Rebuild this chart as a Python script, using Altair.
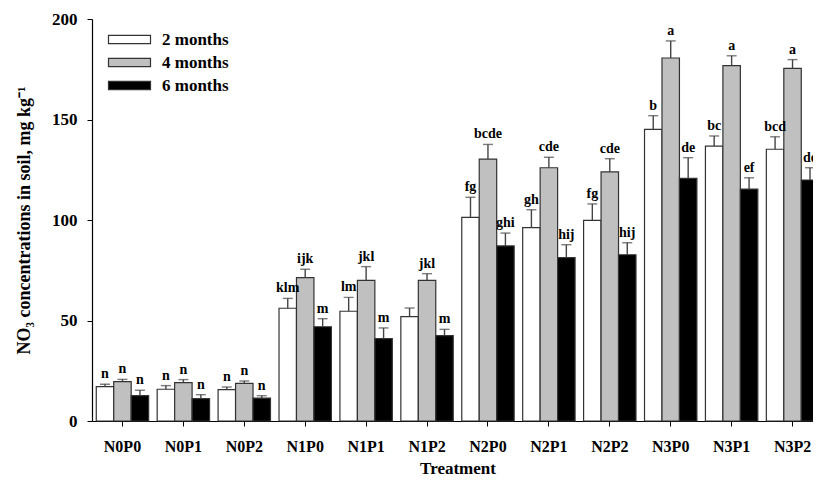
import altair as alt
import pandas as pd

treatments = ["N0P0", "N0P1", "N0P2", "N1P0", "N1P1", "N1P2",
              "N2P0", "N2P1", "N2P2", "N3P0", "N3P1", "N3P2"]
months = ["2 months", "4 months", "6 months"]

mean_2 = [17.1, 15.8, 15.6, 56.1, 54.6, 51.9, 101.3, 96.2, 99.8, 145.1, 136.8, 135.2]
top_2 = [18.3, 17.6, 16.9, 61.0, 61.5, 56.2, 111.3, 105.1, 108.0, 151.9, 141.8, 141.4]
lab_2 = ["n", "n", "n", "klm", "lm", "", "fg", "gh", "fg", "b", "bc", "bcd"]

mean_4 = [19.6, 19.1, 18.7, 71.3, 70.0, 70.0, 130.3, 126.0, 123.9, 180.6, 176.8, 175.4]
top_4 = [20.7, 20.6, 19.9, 75.5, 76.8, 73.3, 137.6, 131.2, 130.5, 189.1, 181.7, 179.8]
lab_4 = ["n", "n", "n", "ijk", "jkl", "jkl", "bcde", "cde", "cde", "a", "a", "a"]

mean_6 = [12.6, 11.1, 11.4, 46.9, 41.0, 42.5, 87.1, 81.3, 82.7, 120.7, 115.4, 119.9]
top_6 = [15.3, 13.1, 12.6, 50.9, 46.3, 45.6, 93.5, 87.7, 88.7, 131.0, 121.0, 126.0]
lab_6 = ["n", "n", "n", "m", "m", "m", "ghi", "hij", "hij", "de", "ef", "de"]

rows = []
for m, means, tops, labs in [(months[0], mean_2, top_2, lab_2),
                             (months[1], mean_4, top_4, lab_4),
                             (months[2], mean_6, top_6, lab_6)]:
    for t, v, e, l in zip(treatments, means, tops, labs):
        rows.append({"treatment": t, "month": m, "value": v, "err": e, "label": l})
df = pd.DataFrame(rows)

FONT = "Liberation Serif"

x_enc = alt.X("treatment:N", sort=treatments,
              scale=alt.Scale(range=[0, 731], paddingInner=0.14, paddingOuter=0.07),
              axis=alt.Axis(title="Treatment", labelAngle=0, tickSize=5,
                            labelPadding=12, titlePadding=6,
                            labelFontSize=16, titleFontSize=17))
xo_enc = alt.XOffset("month:N", sort=months, scale=alt.Scale(paddingInner=0, paddingOuter=0))
y_scale = alt.Scale(domain=[0, 200], nice=False)

base = alt.Chart(df).encode(x=x_enc, xOffset=xo_enc)

bars = base.mark_bar(stroke="#333333", strokeWidth=1.2).encode(
    y=alt.Y("value:Q", scale=y_scale,
            axis=alt.Axis(title="NO\u2083 concentrations in soil, mg kg\u207b\u00b9",
                          values=[0, 50, 100, 150, 200], tickSize=5, labelPadding=10,
                          titlePadding=18, labelFontSize=17, titleFontSize=18, grid=False)),
    color=alt.Color("month:N", sort=months,
                    scale=alt.Scale(domain=months, range=["#ffffff", "#c0c0c0", "#000000"]),
                    legend=alt.Legend(title=None, orient="none", legendX=29, legendY=12,
                                      symbolType="M-5,-1H5V1H-5Z", symbolSize=70.6,
                                      symbolStrokeColor="#333333", symbolStrokeWidth=1.2,
                                      labelOffset=24, rowPadding=5,
                                      labelFont=FONT, labelFontWeight="bold",
                                      labelFontSize=17, labelColor="#000000")),
)

rule = base.mark_rule(color="#444444", strokeWidth=1.4).encode(y="value:Q", y2="err:Q")
cap = base.mark_tick(color="#444444", size=10, thickness=1.4).encode(y="err:Q")
text = base.mark_text(baseline="bottom", dy=-3, font=FONT, fontWeight="bold",
                      fontSize=14, color="#000000").encode(y="err:Q", text="label:N")

chart = alt.layer(bars, rule, cap, text).properties(
    width=721, height=402,
    autosize=alt.AutoSizeParams(type="none"),
    padding={"left": 84, "top": 11, "right": 0, "bottom": 57},
).configure_view(stroke=None).configure_axis(
    labelFont=FONT, titleFont=FONT, labelFontWeight="bold", titleFontWeight="bold",
    labelColor="#000000", titleColor="#000000", domainColor="#000000",
    tickColor="#000000", domainWidth=1.2,
)

chart.save("out.html", embed_options={"renderer": "svg", "actions": False})
